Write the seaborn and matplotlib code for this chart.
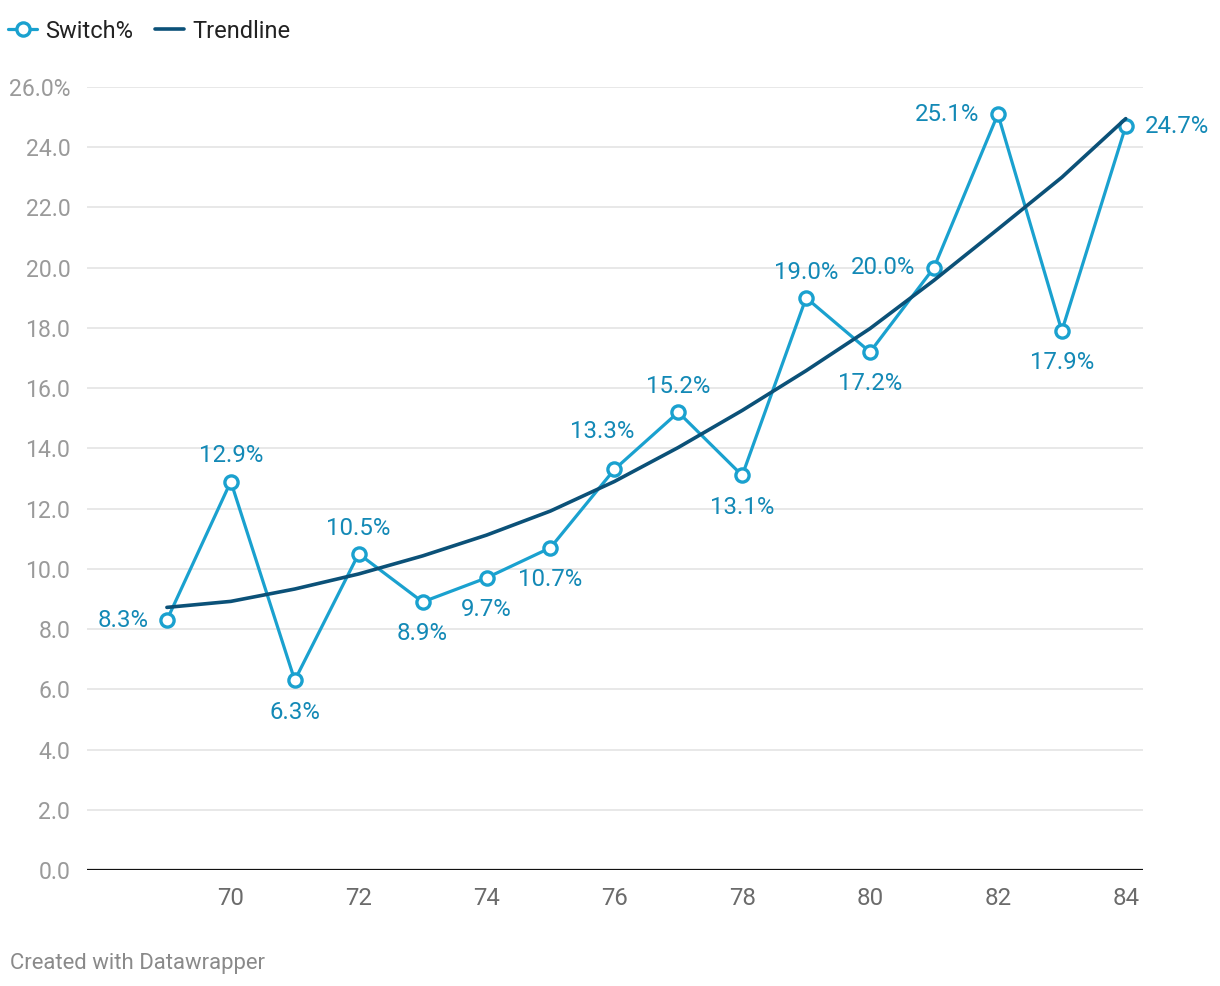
import matplotlib
matplotlib.use("Agg")
import matplotlib.pyplot as plt
import seaborn as sns
import pandas as pd
from matplotlib.lines import Line2D

years = [69, 70, 71, 72, 73, 74, 75, 76, 77, 78, 79, 80, 81, 82, 83, 84]
switch_pct = [8.3, 12.9, 6.3, 10.5, 8.9, 9.7, 10.7, 13.3, 15.2, 13.1, 19.0, 17.2, 20.0, 25.1, 17.9, 24.7]
trendline = [8.72, 8.92, 9.33, 9.83, 10.43, 11.12, 11.92, 12.9, 14.03, 15.26, 16.58, 17.98, 19.58, 21.28, 23.0, 24.95]
y_ticks = [0, 2, 4, 6, 8, 10, 12, 14, 16, 18, 20, 22, 24, 26]
x_ticks = [70, 72, 74, 76, 78, 80, 82, 84]
placement = ['left', 'above', 'below', 'above', 'below', 'below', 'below', 'aboveleft',
             'above', 'below', 'above', 'below', 'left', 'left', 'below', 'right']

LIGHT = '#1aa1cf'
LABEL = '#1389b6'
DARK = '#0b5178'

sns.set_theme(style='white')
plt.rcParams['font.family'] = ['Roboto', 'DejaVu Sans']

df = pd.DataFrame({'year': years, 'switch': switch_pct, 'trend': trendline})

fig = plt.figure(figsize=(12.2, 9.86), dpi=100)
ax = fig.add_axes([87/1220, 1 - 870/986, (1143-87)/1220, (870-87)/986])

for t in y_ticks[1:]:
    ax.axhline(t, color='#e1e1e1', lw=1.1, zorder=0)
ax.axhline(0, color='#111111', lw=1.6, zorder=1)

sns.lineplot(data=df, x='year', y='switch', ax=ax, color=LIGHT, lw=2.3,
             marker='o', markersize=9.5, markerfacecolor='white',
             markeredgecolor=LIGHT, markeredgewidth=2.4, zorder=4)
sns.lineplot(data=df, x='year', y='trend', ax=ax, color=DARK, lw=2.6, zorder=5)

offsets = {'left': (-13.5, 0, 'right'), 'right': (13.5, 0, 'left'),
           'above': (0, 18.5, 'center'), 'below': (0, -23, 'center'),
           'aboveleft': (-9, 27, 'center')}
for x, y, p in zip(years, switch_pct, placement):
    dx, dy, ha = offsets[p]
    ax.annotate(f'{y:.1f}%', (x, y), xytext=(dx, dy), textcoords='offset points',
                ha=ha, va='center', fontsize=17.3, color=LABEL, zorder=6)

ax.set_xlim(67.75, 84.27)
ax.set_ylim(0, 26)
ax.set_yticks(y_ticks)
ax.set_yticklabels([f'{t:.1f}%' if t == 26 else f'{t:.1f}' for t in y_ticks])
ax.set_xticks(x_ticks)
ax.set_xticklabels([str(t) for t in x_ticks])
ax.tick_params(axis='y', length=0, pad=12, labelsize=16.6, labelcolor='#9a9a9a')
ax.tick_params(axis='x', length=0, pad=12, labelsize=17.3, labelcolor='#6b6b6b')
ax.set_xlabel('')
ax.set_ylabel('')
for s in ax.spines.values():
    s.set_visible(False)

handles = [Line2D([], [], color=LIGHT, lw=2.3, marker='o', markersize=9.5,
                  markerfacecolor='white', markeredgecolor=LIGHT, markeredgewidth=2.4),
           Line2D([], [], color=DARK, lw=2.6)]
fig.legend(handles, ['Switch%', 'Trendline'], loc='center left',
           bbox_to_anchor=(0.003, 1 - 31/986), ncol=2, frameon=False,
           fontsize=17, handlelength=1.2, handletextpad=0.35, columnspacing=0.95,
           labelcolor='#222222', borderaxespad=0, borderpad=0.2)

fig.text(10/1220, 1 - 963/986, 'Created with Datawrapper', fontsize=15.9,
         color='#8a8a8a', va='center', ha='left')

fig.savefig('out.png', dpi=100, facecolor='white')
